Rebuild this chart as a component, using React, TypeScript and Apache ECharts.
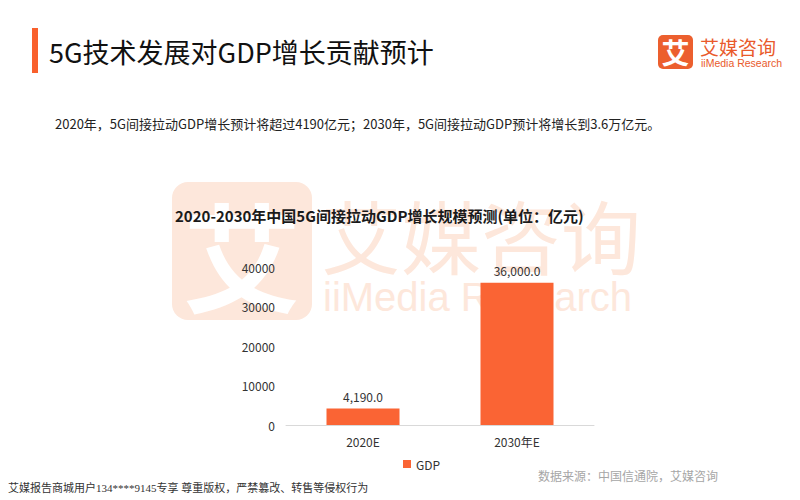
import React, { useEffect, useRef } from "react";
import * as echarts from "echarts";

const categories = ["2020E", "2030年E"];
const gdpValues = [4190, 36000];
const seriesName = "GDP";
const yMin = 0;
const yMax = 40000;
const yInterval = 10000;

const pageTitle = "5G技术发展对GDP增长贡献预计";
const subtitle = "2020年，5G间接拉动GDP增长预计将超过4190亿元；2030年，5G间接拉动GDP预计将增长到3.6万亿元。";
const chartTitle = "2020-2030年中国5G间接拉动GDP增长规模预测(单位：亿元)";
const sourceText = "数据来源：中国信通院，艾媒咨询";
const footerText = "艾媒报告商城用户134****9145专享 尊重版权，严禁篡改、转售等侵权行为";

const CJK = '"Noto Sans CJK SC", "Noto Sans", sans-serif';
const ORANGE = "#fa6434";
const WM = "#fde7db";

export default function App() {
  const ref = useRef<HTMLDivElement>(null);
  useEffect(() => {
    if (!ref.current) return;
    const chart = echarts.init(ref.current, undefined, { renderer: "svg" });
    chart.setOption({
      animation: false,
      backgroundColor: "#ffffff",
      textStyle: { fontFamily: CJK },
      grid: { left: 286, right: 206, top: 267, bottom: 75 },
      legend: {
        data: [seriesName],
        left: 398,
        top: 453,
        icon: "rect",
        itemWidth: 8,
        itemHeight: 8,
        itemGap: 4,
        textStyle: { fontSize: 12, color: "#333", fontFamily: CJK },
      },
      xAxis: {
        type: "category",
        data: categories,
        axisLine: { lineStyle: { color: "#d9d9d9" } },
        axisTick: { show: false },
        axisLabel: { fontSize: 12, color: "#333", margin: 10, fontFamily: CJK },
      },
      yAxis: {
        type: "value",
        min: yMin,
        max: yMax,
        interval: yInterval,
        axisLine: { show: false },
        axisTick: { show: false },
        splitLine: { show: false },
        axisLabel: {
          fontSize: 12,
          color: "#333",
          margin: 11,
          fontFamily: CJK,
          formatter: (v: number) => String(v),
        },
      },
      series: [
        {
          name: seriesName,
          type: "bar",
          data: gdpValues,
          barWidth: 73,
          itemStyle: { color: ORANGE },
          label: {
            show: true,
            position: "top",
            distance: 6,
            fontSize: 12,
            color: "#333",
            fontFamily: CJK,
            formatter: (p: any) =>
              Number(p.value).toLocaleString("en-US", { minimumFractionDigits: 1, maximumFractionDigits: 1 }),
          },
        },
      ],
      graphic: [
        // watermark
        { type: "rect", z: -10, shape: { x: 172, y: 182, width: 140, height: 138, r: 16 }, style: { fill: WM } },
        {
          type: "text", z: -9, x: 242, y: 252,
          style: { text: "艾", fontSize: 118, fontFamily: CJK, fontWeight: "bold", fill: "#ffffff", align: "center", verticalAlign: "middle" },
        },
        {
          type: "text", z: -9, x: 321, y: 233,
          style: { text: "艾媒咨询", fontSize: 80, fontFamily: CJK, fill: WM, verticalAlign: "middle" },
        },
        {
          type: "text", z: -9, x: 323, y: 297,
          style: { text: "iiMedia Research", fontSize: 40, fontFamily: '"Liberation Sans", Arial, sans-serif', fill: WM, verticalAlign: "middle" },
        },
        // header
        { type: "rect", shape: { x: 32, y: 28, width: 6, height: 45 }, style: { fill: "#f9602c" } },
        {
          type: "text", x: 49, y: 51,
          style: { text: pageTitle, fontSize: 27, fontFamily: CJK, fill: "#111", verticalAlign: "middle" },
        },
        {
          type: "text", x: 55, y: 123,
          style: { text: subtitle, fontSize: 13, fontFamily: CJK, fill: "#222", verticalAlign: "middle" },
        },
        // logo
        { type: "rect", shape: { x: 658, y: 35, width: 35, height: 34, r: 5 }, style: { fill: "#ec5f2e" } },
        {
          type: "text", x: 675.5, y: 52,
          style: { text: "艾", fontSize: 28, fontFamily: CJK, fontWeight: "bold", fill: "#ffffff", align: "center", verticalAlign: "middle" },
        },
        {
          type: "text", x: 700, y: 46,
          style: { text: "艾媒咨询", fontSize: 19, fontFamily: CJK, fill: "#e95a2b", verticalAlign: "middle" },
        },
        {
          type: "text", x: 701, y: 63,
          style: { text: "iiMedia Research", fontSize: 10.5, fontFamily: '"Liberation Sans", Arial, sans-serif', fill: "#e95a2b", verticalAlign: "middle" },
        },
        // chart title
        {
          type: "text", x: 175, y: 215,
          style: { text: chartTitle, fontSize: 15, fontFamily: CJK, fontWeight: "bold", fill: "#1a1a1a", verticalAlign: "middle" },
        },
        // source & footer
        {
          type: "text", x: 538, y: 475,
          style: { text: sourceText, fontSize: 12, fontFamily: CJK, fill: "#a6a6a6", verticalAlign: "middle" },
        },
        {
          type: "text", x: 8, y: 488,
          style: { text: footerText, fontSize: 11, fontFamily: 'serif, "Noto Sans CJK SC"', fill: "#333", verticalAlign: "middle" },
        },
      ],
    });
    return () => chart.dispose();
  }, []);
  return (
    <div
      ref={ref}
      style={{ position: "fixed", left: 0, top: 0, width: 800, height: 500 }}
    />
  );
}
